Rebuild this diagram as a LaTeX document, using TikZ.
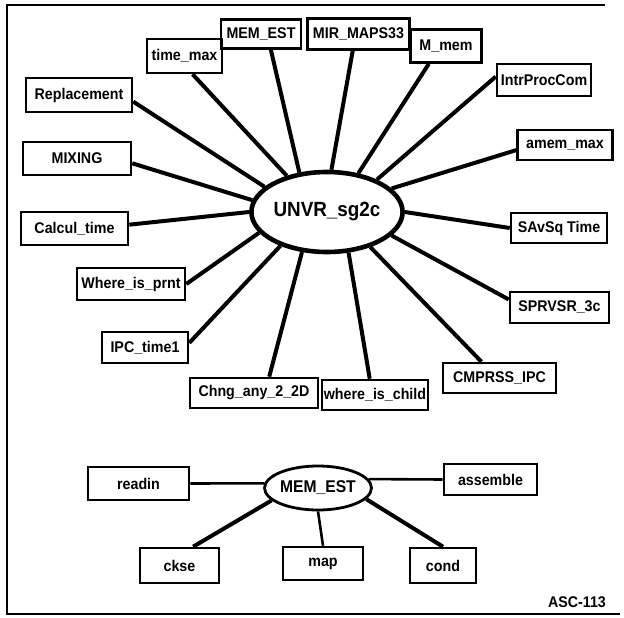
\documentclass[tikz,border=0pt]{standalone}
\usepackage{fontspec}
\setmainfont{Liberation Sans}[FakeStretch=0.92]
\usetikzlibrary{shapes.geometric}
\tikzset{
  modbox/.style={rectangle, draw=black, line width=2.6pt, inner sep=0pt,
    font=\bfseries\fontsize{15.5}{18}\selectfont},
  dims/.style 2 args={minimum width=#1pt, minimum height=#2pt},
  hub/.style={ellipse, draw=black, line width=4.6pt, inner sep=0pt,
    font=\bfseries\fontsize{20.5}{24}\selectfont},
  subhub/.style={ellipse, draw=black, line width=2.8pt, inner sep=0pt,
    font=\bfseries\fontsize{17}{20}\selectfont},
  spoke/.style={line width=4pt},
  thinspoke/.style={line width=2.6pt},
  sheetedge/.style={line width=2.5pt},
}

\begin{document}
\begin{tikzpicture}[x=1pt, y=-1pt]
  \useasboundingbox (0,0) rectangle (624,618);
  \draw[sheetedge] (605,5) -- (7,5) -- (7,614) -- (620,614);

  \node[hub, minimum width=128pt, minimum height=80pt] (unvr) at (327,212) {UNVR\_sg2c};

  \node[modbox, dims={75}{34}] (timemax) at (184.5,56) {time\_max};
  \node[modbox, dims={80}{29}] (memtop) at (261,34) {MEM\_EST};
  \node[modbox, dims={102}{31}] (mirmaps) at (358.5,34) {MIR\_MAPS33};
  \node[modbox, dims={71}{33}] (mmem) at (446,46) {M\_mem};
  \node[modbox, dims={94}{32}] (intrproc) at (544,80) {IntrProcCom};
  \node[modbox, dims={95}{30}] (amemmax) at (565,145) {amem\_max};
  \node[modbox, dims={106}{34}] (replace) at (79,95) {Replacement};
  \node[modbox, dims={108}{33}] (mixing) at (77,158.5) {MIXING};
  \node[modbox, dims={107}{33}] (calcul) at (74.5,228.5) {Calcul\_time};
  \node[modbox, dims={96}{30}] (savsq) at (559,228) {SAvSq Time};
  \node[modbox, dims={108}{32}] (prnt) at (131,284) {Where\_is\_prnt};
  \node[modbox, dims={99}{31}] (sprvsr) at (559.5,307.5) {SPRVSR\_3c};
  \node[modbox, dims={86}{31}] (ipctime) at (145,347.5) {IPC\_time1};
  \node[modbox, dims={113}{30}] (cmprss) at (499.5,378) {CMPRSS\_IPC};
  \node[modbox, dims={128}{30}] (chng) at (254,393) {Chng\_any\_2\_2D};
  \node[modbox, dims={106}{30}] (child) at (375,395) {where\_is\_child};

  \draw[spoke] (timemax.-66) -- (unvr.138);
  \draw[spoke] (memtop.-58) -- (unvr.125);
  \draw[spoke] (mirmaps.-109) -- (unvr.84);
  \draw[spoke] (mmem.-134) -- (unvr.51);
  \draw[spoke] (intrproc.176) -- (unvr.33);
  \draw[spoke] (amemmax.-174) -- (unvr.20);
  \draw[spoke] (savsq.west) -- (unvr.east);
  \draw[spoke] (sprvsr.171) -- (unvr.-20);
  \draw[spoke] (cmprss.138) -- (unvr.-39);
  \draw[spoke] (child.108) -- (unvr.-62);
  \draw[spoke] (chng.47) -- (unvr.-122);
  \draw[spoke] (ipctime.6) -- (unvr.-144);
  \draw[spoke] (prnt.east) -- (unvr.-163);
  \draw[spoke] (calcul.4) -- (unvr.west);
  \draw[spoke] (mixing.-5) -- (unvr.171);
  \draw[spoke] (replace.-7) -- (unvr.158);

  \node[subhub, minimum width=102pt, minimum height=44pt] (memest) at (318,488) {MEM\_EST};
  \node[modbox, dims={101}{33}] (readin) at (138.5,483.5) {readin};
  \node[modbox, dims={93}{31}] (assemble) at (490.5,479.5) {assemble};
  \node[modbox, dims={79}{35}] (ckse) at (179.5,565.5) {ckse};
  \node[modbox, dims={80}{33}] (map) at (323,563.5) {map};
  \node[modbox, dims={66}{35}] (cond) at (443,565.5) {cond};

  \draw[thinspoke] (readin.east) -- (memest.175);
  \draw[thinspoke] (memest.10) -- (assemble.west);
  \draw[spoke] (ckse.54) -- (memest.195);
  \draw[thinspoke] (memest.south) -- (map.north);
  \draw[spoke] (memest.-13) -- (cond.north);

  \node[font=\bfseries\fontsize{15.5}{18}\selectfont] (figtag) at (577,602) {ASC-113};
\end{tikzpicture}
\end{document}
